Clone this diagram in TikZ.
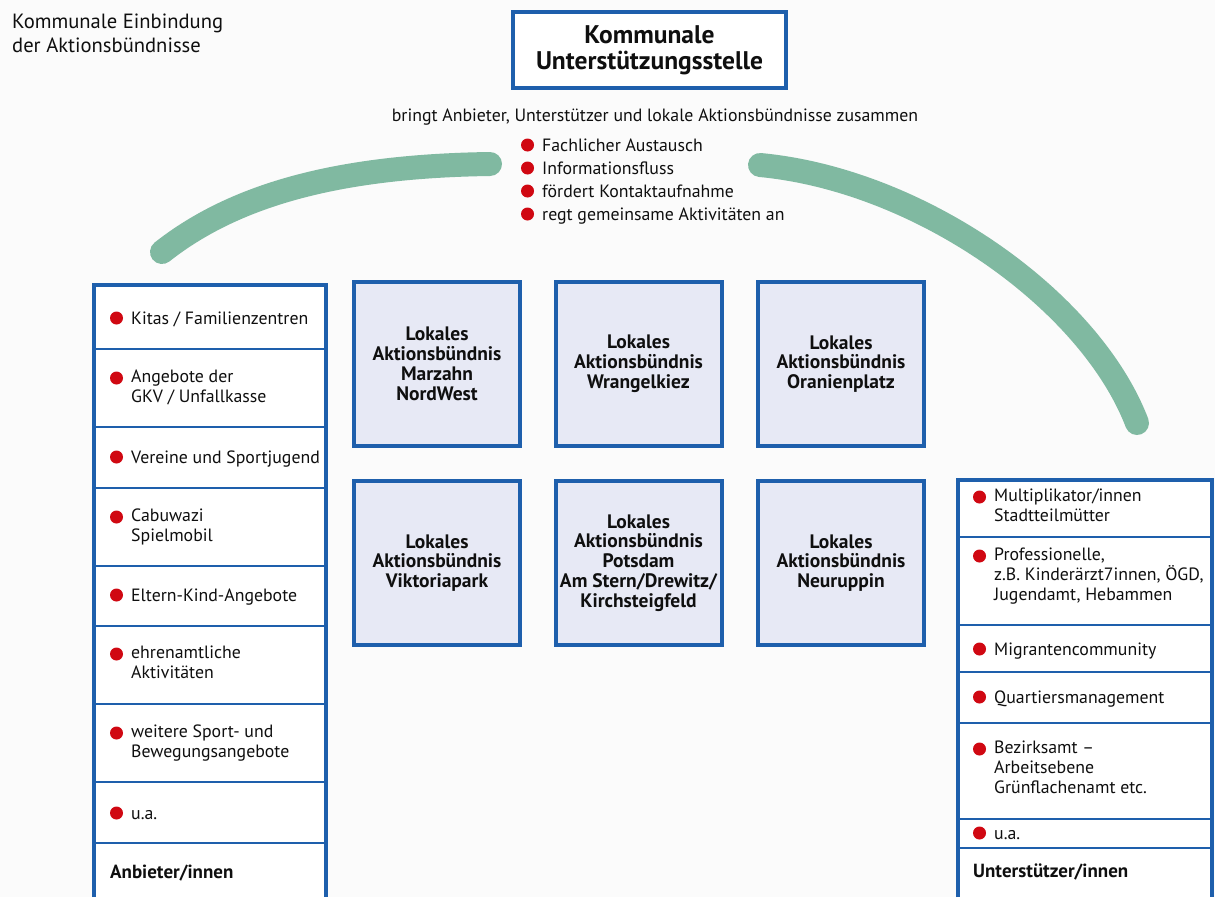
\documentclass[tikz,border=0pt]{standalone}
\usepackage{fontspec}
\setmainfont{PT Sans}
\definecolor{frameblue}{RGB}{30,95,172}
\definecolor{dotred}{RGB}{208,8,18}
\definecolor{arcgreen}{RGB}{128,185,161}
\definecolor{boxfill}{RGB}{231,233,245}
\definecolor{ink}{RGB}{15,15,15}
\definecolor{paper}{RGB}{251,251,251}

\begin{document}
\begin{tikzpicture}[x=1pt,y=-1pt,
  itemtext/.style={anchor=north west, inner sep=0pt, align=left, text=ink,
    font=\fontsize{17.8}{20}\selectfont, execute at begin node=\strut},
  headtext/.style={itemtext, font=\bfseries\fontsize{19}{20}\selectfont},
  frameline/.style={draw=frameblue, line width=4pt, line join=miter},
  divider/.style={draw=frameblue, line width=2.5pt},
  alliance/.style={draw=frameblue, line width=4pt, fill=boxfill, text=ink,
    minimum width=166pt, minimum height=164pt, inner sep=0pt, align=center,
    font=\bfseries\fontsize{19.5}{19.8}\selectfont},
  hub/.style={draw=frameblue, line width=4pt, fill=white, text=ink,
    minimum width=273pt, minimum height=76pt, inner sep=0pt, align=center,
    font=\bfseries\fontsize{25.5}{26}\selectfont},
  greenarc/.style={draw=arcgreen, line width=24pt, line cap=round},
  dot/.style={fill=dotred}
]
\useasboundingbox[fill=paper] (0,0) rectangle (1215,897);

% heading
\node[itemtext, font=\fontsize{20.6}{24}\selectfont] (title) at (12,13.4)
  {Kommunale Einbindung\\der Aktionsbündnisse};

% central office
\node[hub] (kus) at (649.5,50) {Kommunale\\Unterstützungsstelle};
\node[anchor=base, inner sep=0pt, text=ink, font=\fontsize{17.8}{20}\selectfont] (bringt) at (655,121)
  {bringt Anbieter, Unterstützer und lokale Aktionsbündnisse zusammen};
\node[itemtext] (b1) at (542,137) {Fachlicher Austausch};
\node[itemtext] (b2) at (542,160) {Informationsfluss};
\node[itemtext] (b3) at (542,183) {fördert Kontaktaufnahme};
\node[itemtext] (b4) at (542,206) {regt gemeinsame Aktivitäten an};

% green arcs
\coordinate (gl1) at (162,252);
\coordinate (gl2) at (490,164);
\coordinate (gr1) at (760,165);
\coordinate (gr2) at (1137,423);
\draw[greenarc] (gl1) .. controls (238,192) and (345,166) .. (gl2);
\draw[greenarc] (gr1) .. controls (920,180) and (1090,300) .. (gr2);

% local alliances
\node[alliance] (ab1) at (437,364) {Lokales\\Aktionsbündnis\\Marzahn\\NordWest};
\node[alliance] (ab2) at (638.5,364) {Lokales\\Aktionsbündnis\\Wrangelkiez};
\node[alliance] (ab3) at (841,364) {Lokales\\Aktionsbündnis\\Oranienplatz};
\node[alliance] (ab4) at (437,563) {Lokales\\Aktionsbündnis\\Viktoriapark};
\node[alliance] (ab5) at (638.5,563) {Lokales\\Aktionsbündnis\\Potsdam\\Am Stern/Drewitz/\\Kirchsteigfeld};
\node[alliance] (ab6) at (841,563) {Lokales\\Aktionsbündnis\\Neuruppin};

% providers column
\fill[white] (94,285) rectangle (326,897);
\foreach \y in {349,427,488,566,626,704,782,843}
  \draw[divider] (94,\y) -- (326,\y);
\draw[frameline] (94,897) -- (94,285) -- (326,285) -- (326,897);
\node[itemtext] (l1) at (131,310) {Kitas / Familienzentren};
\node[itemtext] (l2) at (131,370) {Angebote der\\GKV / Unfallkasse};
\node[itemtext] (l3) at (131,449) {Vereine und Sportjugend};
\node[itemtext] (l4) at (131,509) {Cabuwazi\\Spielmobil};
\node[itemtext] (l5) at (131,587) {Eltern-Kind-Angebote};
\node[itemtext] (l6) at (131,646) {ehrenamtliche\\Aktivitäten};
\node[itemtext] (l7) at (131,725) {weitere Sport- und\\Bewegungsangebote};
\node[itemtext] (l8) at (131,805) {u.a.};
\node[headtext] (l9) at (110,864) {Anbieter/innen};

% supporters column
\fill[white] (958,480) rectangle (1212,897);
\foreach \y in {537,625,672,723,819,848}
  \draw[divider] (958,\y) -- (1212,\y);
\draw[frameline] (958,897) -- (958,480) -- (1212,480) -- (1212,897);
\node[itemtext] (r1) at (994,489) {Multiplikator/innen\\Stadtteilmütter};
\node[itemtext] (r2) at (994,548) {Professionelle,\\z.B. Kinderärzt7innen, ÖGD,\\Jugendamt, Hebammen};
\node[itemtext] (r3) at (994,641) {Migrantencommunity};
\node[itemtext] (r4) at (994,689) {Quartiersmanagement};
\node[itemtext] (r5) at (994,741) {Bezirksamt –\\Arbeitsebene\\Grünflachenamt etc.};
\node[itemtext] (r6) at (994,825) {u.a.};
\node[headtext] (r7) at (973,863) {Unterstützer/innen};

% red bullets in front of the listed items
\foreach \n in {b1,b2,b3,b4,l1,l2,l3,l4,l5,l6,l7,l8,r1,r2,r3,r4,r5,r6}
  \fill[dot] ([shift={(-14.5,8)}]\n.north west) circle (6.5pt);
\end{tikzpicture}
\end{document}
